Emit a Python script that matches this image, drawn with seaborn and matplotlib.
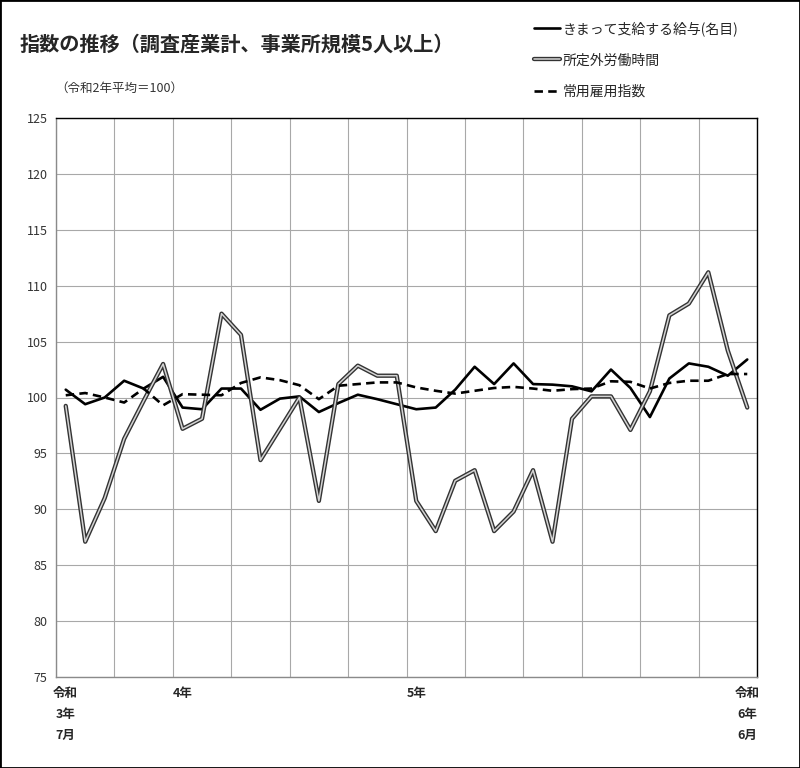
import matplotlib
matplotlib.use("Agg")
import matplotlib.pyplot as plt
import matplotlib.patheffects as pe
from matplotlib.patches import Rectangle
import seaborn as sns
import numpy as np

# ---- data (令和3年7月 .. 令和6年6月, 36 months) ----
months = list(range(36))
wage = [100.7, 99.4, 100.0, 101.5, 100.8, 101.85, 99.1, 98.95, 100.8, 100.8, 98.9, 99.9,
        100.1, 98.7, 99.5, 100.25, 99.85, 99.4, 98.95, 99.1, 100.7, 102.75, 101.2, 103.05,
        101.2, 101.15, 101.0, 100.55, 102.5, 100.85, 98.25, 101.7, 103.05, 102.75, 101.95, 103.4]
overtime = [99.25, 87.1, 91.0, 96.3, 99.7, 103.0, 97.2, 98.1, 107.5, 105.6, 94.4, 97.2,
            100.0, 90.75, 101.2, 102.85, 101.95, 101.95, 90.75, 88.05, 92.55, 93.5, 88.05, 89.8,
            93.5, 87.1, 98.1, 100.1, 100.1, 97.1, 100.55, 107.35, 108.4, 111.2, 104.2, 99.1]
employ = [100.2, 100.4, 100.0, 99.55, 100.8, 99.3, 100.3, 100.25, 100.2, 101.3, 101.8, 101.55,
          101.1, 99.85, 101.05, 101.2, 101.35, 101.35, 100.9, 100.6, 100.35, 100.6, 100.85, 100.95,
          100.8, 100.6, 100.75, 100.8, 101.45, 101.4, 100.8, 101.3, 101.5, 101.5, 102.1, 102.1]
series_labels = ["きまって支給する給与(名目)", "所定外労働時間", "常用雇用指数"]
tick_pos = [0, 6, 18, 35]
tick_labels = ["令和\n3年\n7月", "4年", "5年", "令和\n6年\n6月"]
y_ticks = [75, 80, 85, 90, 95, 100, 105, 110, 115, 120, 125]
title = "指数の推移（調査産業計、事業所規模5人以上）"
subtitle = "（令和2年平均＝100）"

sns.set_style("white")
plt.rcParams['font.family'] = ['Noto Sans CJK JP', 'DejaVu Sans']

fig = plt.figure(figsize=(8.0, 7.68), dpi=100)
ax = fig.add_axes([56/800, 1-677/768, (757-56)/800, (677-118)/768])

sns.lineplot(x=months, y=wage, ax=ax, color="black", lw=1.9, label=series_labels[0])
sns.lineplot(x=months, y=overtime, ax=ax, color="#d4d4d4", lw=1.1, label=series_labels[1],
             path_effects=[pe.Stroke(linewidth=3.1, foreground="#333333"), pe.Normal()])
sns.lineplot(x=months, y=employ, ax=ax, color="black", lw=1.9, label=series_labels[2],
             dashes=False)
ax.lines[-1].set_dashes([3.2, 2.0])

ax.set_xlim(-0.5, 35.5)
ax.set_ylim(75, 125)
ax.set_yticks(y_ticks)
ax.set_yticklabels([str(v) for v in y_ticks], fontsize=9, color="#333333")
ax.set_xticks(np.arange(-0.5, 36, 3), minor=True)
ax.set_xticks(tick_pos)
ax.set_xticklabels(tick_labels, fontsize=9, fontweight="bold", linespacing=1.8, va="top")
ax.tick_params(axis="both", which="both", length=0)
ax.tick_params(axis="x", pad=7)
ax.tick_params(axis="y", pad=6)
ax.grid(False)
ax.grid(True, which="minor", axis="x", color="#a8a8a8", lw=0.8)
ax.grid(True, which="major", axis="y", color="#a8a8a8", lw=0.8)
ax.set_xlabel("")
ax.set_ylabel("")
for side in ["left", "bottom"]:
    ax.spines[side].set_color("#8a8a8a")
    ax.spines[side].set_linewidth(1.0)
for side in ["top", "right"]:
    ax.spines[side].set_color("black")
    ax.spines[side].set_linewidth(1.0)

handles, labels = ax.get_legend_handles_labels()
ax.legend(handles, labels, loc="upper left", bbox_to_anchor=(534/800, 1-21/768),
          bbox_transform=fig.transFigure, frameon=False, fontsize=10,
          handlelength=1.9, handletextpad=0.15, labelspacing=1.25,
          borderpad=0, borderaxespad=0)

fig.text(20/800, 1-44/768, title, fontsize=14.5, fontweight="bold", ha="left", va="center")
fig.text(55/800, 1-88/768, subtitle, fontsize=9, color="#333333", ha="left", va="center")

fig.patches.append(Rectangle((0, 0), 1, 1, transform=fig.transFigure, fill=False,
                             edgecolor="black", lw=2, zorder=10))

fig.savefig("out.png", dpi=100)
